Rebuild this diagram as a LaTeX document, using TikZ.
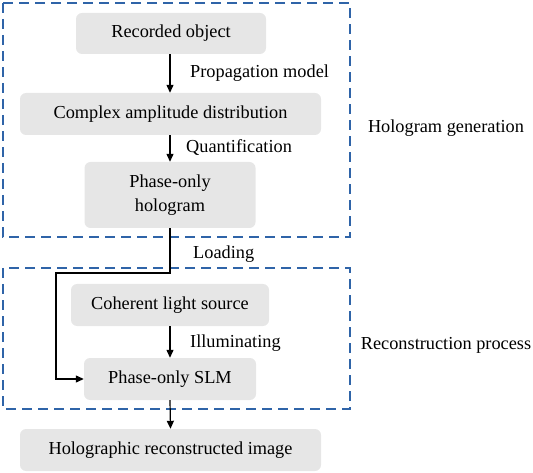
\documentclass[tikz,border=0pt]{standalone}
\usepackage{fontspec}
\setmainfont{Liberation Serif}
\usetikzlibrary{arrows.meta}
\definecolor{boxgray}{HTML}{E6E6E6}
\definecolor{dashblue}{HTML}{2F64A8}
\begin{document}
\begin{tikzpicture}[x=1pt,y=-1pt,
  stepbox/.style={fill=boxgray, rounded corners=6pt, inner sep=0pt, align=center, font=\fontsize{18.3}{24}\selectfont},
  grp/.style={draw=dashblue, line width=1.4pt, dash pattern=on 10pt off 6pt},
  arr/.style={-{Triangle[length=8pt,width=7pt]}, line width=1.2pt},
  lbl/.style={font=\fontsize{18.3}{21}\selectfont, anchor=west, inner sep=0pt},
  grplbl/.style={font=\fontsize{18.3}{21}\selectfont, inner sep=0pt}]
\useasboundingbox (0,0) rectangle (533,473);
\draw[grp] (3,3) rectangle (350,237);
\draw[grp] (3,268) rectangle (350,409);
\node[stepbox, minimum width=190pt, minimum height=41pt] (rec) at (171,33.5) {Recorded object};
\node[stepbox, minimum width=301pt, minimum height=42pt] (cad) at (170.5,114) {Complex amplitude distribution};
\node[stepbox, minimum width=171pt, minimum height=66pt] (poh) at (170,195) {Phase-only\\hologram};
\node[stepbox, minimum width=198pt, minimum height=42pt] (cls) at (170,305) {Coherent light source};
\node[stepbox, minimum width=172pt, minimum height=42pt] (slm) at (170,379) {Phase-only SLM};
\node[stepbox, minimum width=301pt, minimum height=42pt] (hri) at (170.5,450) {Holographic reconstructed image};
\draw[arr] (rec.south -| 170,0) -- (cad.north -| 170,0);
\node[lbl] (l1) at (190,73) {Propagation model};
\draw[arr] (cad.south -| 170,0) -- (poh.north -| 170,0);
\node[lbl] (l2) at (186,148) {Quantification};
\coordinate (c1) at (170,273);
\coordinate (c2) at (56,273);
\coordinate (c3) at (56,379);
\draw[arr] (poh.south) -- (c1) -- (c2) -- (c3) -- (slm.west);
\node[lbl] (l3) at (193,254) {Loading};
\draw[arr] (cls.south) -- (slm.north);
\node[lbl] (l4) at (190,343) {Illuminating};
\draw[arr] (slm.south) -- (hri.north);
\node[grplbl] (g1) at (446,128) {Hologram generation};
\node[grplbl] (g2) at (446,345) {Reconstruction process};
\end{tikzpicture}
\end{document}
